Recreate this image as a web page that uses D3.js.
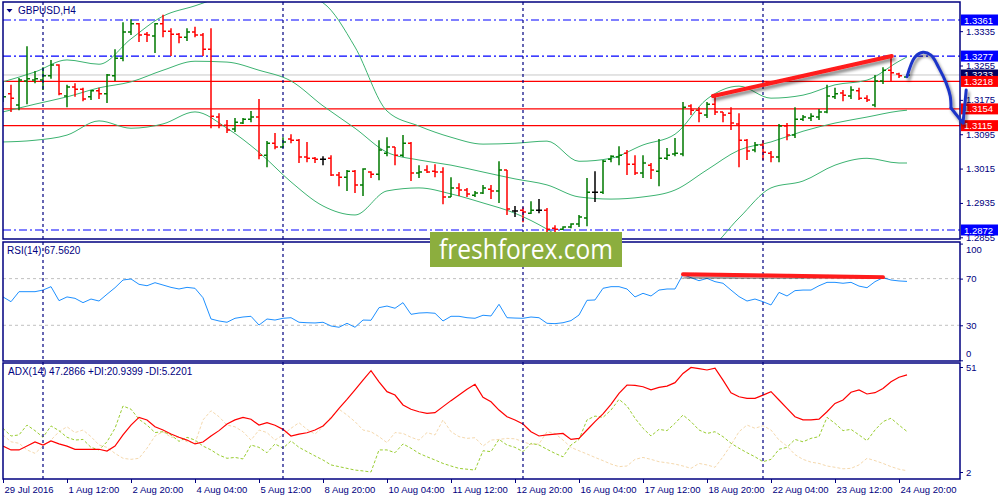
<!DOCTYPE html>
<html>
<head>
<meta charset="utf-8">
<script src="https://cdn.jsdelivr.net/npm/d3@7"></script>
<style>
body { margin: 0; background: #fff; }
svg { display: block; font-family: "Liberation Sans", Arial, sans-serif; }
</style>
</head>
<body>
<script>
//DATA - GBPUSD H4, one entry per bar (bar 0 = 29 Jul 2016)
var open = [1.3175,1.3189,1.3163,1.3219,1.3221,1.3221,1.3231,1.3256,1.3184,1.3205,
  1.3200,1.3182,1.3196,1.3189,1.3231,1.3272,1.3333,1.3352,1.3328,1.3324,
  1.3352,1.3335,1.3328,1.3321,1.3333,1.3326,1.3293,1.3135,1.3116,1.3107,
  1.3121,1.3130,1.3135,1.3046,1.3074,1.3065,1.3084,1.3081,1.3042,1.3039,
  1.3037,1.3039,1.3000,1.2995,1.3009,1.2977,1.3007,1.3002,1.3051,1.3065,
  1.3046,1.3074,1.3005,1.3012,1.3009,1.3007,1.2949,1.2970,1.2965,1.2953,
  1.2958,1.2967,1.2963,1.3012,1.2916,1.2918,1.2911,1.2918,1.2918,1.2876,
  1.2874,1.2879,1.2886,1.2900,1.2960,1.2960,1.3037,1.3042,1.3051,1.3025,
  1.3005,1.3023,1.3009,1.3039,1.3049,1.3049,1.3161,1.3151,1.3140,1.3165,
  1.3147,1.3144,1.3119,1.3081,1.3058,1.3070,1.3051,1.3042,1.3114,1.3093,
  1.3130,1.3133,1.3135,1.3147,1.3182,1.3191,1.3184,1.3196,1.3179,1.3163,
  1.3219,1.3244,1.3235,1.3228];
var high = [1.3217,1.3210,1.3226,1.3300,1.3242,1.3251,1.3268,1.3258,1.3210,1.3214,
  1.3203,1.3198,1.3203,1.3235,1.3293,1.3356,1.3363,1.3354,1.3333,1.3354,
  1.3373,1.3342,1.3331,1.3342,1.3345,1.3331,1.3342,1.3144,1.3128,1.3133,
  1.3133,1.3149,1.3177,1.3079,1.3098,1.3088,1.3095,1.3084,1.3077,1.3042,
  1.3044,1.3046,1.3007,1.3012,1.3012,1.3016,1.3009,1.3081,1.3088,1.3065,
  1.3093,1.3077,1.3023,1.3023,1.3025,1.3018,1.2995,1.2981,1.2970,1.2963,
  1.2977,1.2977,1.3032,1.3012,1.2928,1.2925,1.2939,1.2944,1.2923,1.2883,
  1.2881,1.2888,1.2907,1.2993,1.3009,1.3035,1.3046,1.3067,1.3058,1.3046,
  1.3046,1.3028,1.3084,1.3063,1.3086,1.3170,1.3165,1.3158,1.3170,1.3184,
  1.3147,1.3158,1.3144,1.3084,1.3077,1.3081,1.3056,1.3119,1.3121,1.3158,
  1.3140,1.3144,1.3154,1.3210,1.3203,1.3198,1.3207,1.3203,1.3186,1.3233,
  1.3251,1.3275,1.3238,1.3235];
var low = [1.3170,1.3147,1.3151,1.3165,1.3214,1.3198,1.3224,1.3186,1.3158,1.3182,
  1.3172,1.3175,1.3177,1.3168,1.3219,1.3265,1.3326,1.3310,1.3310,1.3284,
  1.3321,1.3277,1.3307,1.3312,1.3321,1.3277,1.3109,1.3109,1.3098,1.3100,
  1.3119,1.3123,1.3037,1.3018,1.3060,1.3063,1.3074,1.3028,1.3030,1.3028,
  1.3023,1.2998,1.2974,1.2963,1.2958,1.2951,1.2993,1.2988,1.3044,1.3023,
  1.3042,1.2986,1.2993,1.3005,1.2995,1.2932,1.2949,1.2951,1.2949,1.2949,
  1.2956,1.2944,1.2935,1.2907,1.2902,1.2890,1.2909,1.2911,1.2867,1.2867,
  1.2872,1.2876,1.2879,1.2881,1.2937,1.2956,1.3030,1.3023,1.3000,1.3000,
  1.2993,1.2991,1.2974,1.3035,1.3044,1.3044,1.3140,1.3123,1.3133,1.3140,
  1.3123,1.3105,1.3018,1.3035,1.3053,1.3035,1.3030,1.3030,1.3081,1.3086,
  1.3126,1.3126,1.3128,1.3144,1.3177,1.3172,1.3177,1.3175,1.3170,1.3158,
  1.3212,1.3217,1.3226,1.3226];
var close = [1.3182,1.3179,1.3221,1.3224,1.3224,1.3231,1.3256,1.3189,1.3205,1.3200,
  1.3177,1.3196,1.3189,1.3233,1.3272,1.3333,1.3352,1.3326,1.3326,1.3352,
  1.3335,1.3328,1.3321,1.3333,1.3326,1.3293,1.3137,1.3116,1.3105,1.3123,
  1.3130,1.3135,1.3046,1.3074,1.3065,1.3077,1.3081,1.3042,1.3039,1.3037,
  1.3037,1.3000,1.2995,1.3009,1.2977,1.3014,1.3002,1.3058,1.3065,1.3046,
  1.3074,1.3005,1.3007,1.3007,1.3007,1.2949,1.2970,1.2965,1.2956,1.2958,
  1.2970,1.2963,1.3012,1.2921,1.2916,1.2914,1.2918,1.2918,1.2874,1.2874,
  1.2879,1.2886,1.2902,1.2960,1.2960,1.3032,1.3044,1.3046,1.3025,1.3005,
  1.3028,1.3012,1.3039,1.3046,1.3051,1.3158,1.3151,1.3144,1.3165,1.3147,
  1.3140,1.3121,1.3081,1.3056,1.3070,1.3053,1.3042,1.3114,1.3093,1.3130,
  1.3135,1.3137,1.3147,1.3184,1.3189,1.3186,1.3198,1.3179,1.3175,1.3219,
  1.3244,1.3238,1.3231,1.3233];

// Bollinger bands, read every 4th bar
var bandIdx = [0,4,8,12,16,20,24,28,32,36,40,44,48,52,56,60,64,68,72,76,80,84,88,92,96,100,104,108,112,113];
var bandUpper = [1.3217,1.3240,1.3268,1.3258,1.3317,1.3370,1.3394,1.3419,1.3436,1.3426,1.3401,1.3298,1.3149,1.3114,1.3088,
  1.3072,1.3074,1.3079,1.3032,1.3039,1.3070,1.3095,1.3177,1.3207,1.3179,1.3186,1.3210,1.3221,1.3265,1.3275];
var bandMiddle = [1.3147,1.3165,1.3182,1.3203,1.3217,1.3244,1.3265,1.3263,1.3244,1.3219,1.3161,1.3109,1.3053,1.3035,1.3023,
  1.3007,1.2991,1.2977,1.2949,1.2944,1.2949,1.2965,1.3012,1.3058,1.3077,1.3102,1.3121,1.3135,1.3149,1.3151];
var bandLower = [1.3077,1.3081,1.3093,1.3126,1.3109,1.3119,1.3147,1.3109,1.3053,1.2984,1.2928,1.2907,1.2963,1.2970,1.2956,
  1.2935,1.2911,1.2874,1.2825,1.2807,1.2797,1.2807,1.2825,1.2900,1.2970,1.2986,1.3023,1.3039,1.3028,1.3028];

var rsi = [54.3,50.2,58.8,58.8,58.8,60.2,63.1,51.1,54.3,53.1,49.4,52.5,50.8,56.6,62.2,68.8,69.7,65.1,63.9,66.5,
  64.5,62.5,61.1,62.5,61.7,53.6,35.4,33.7,32.6,36.0,37.1,37.7,30.2,35.4,34.5,36.0,36.5,32.6,32.2,32.0,
  32.6,29.4,28.3,31.7,28.3,34.5,34.3,45.1,46.5,44.6,49.4,39.4,40.5,40.8,40.3,33.7,37.7,37.7,36.5,36.0,
  38.6,38.0,48.0,36.5,36.2,36.0,37.1,36.5,31.7,31.4,32.2,34.0,38.8,51.4,51.7,61.7,63.1,63.1,61.1,54.3,
  57.4,55.1,60.2,61.1,61.1,73.6,70.8,68.2,70.2,67.4,66.0,60.2,54.6,50.8,52.5,50.2,47.4,58.2,55.1,59.7,
  60.2,60.2,63.9,66.8,66.8,66.0,66.8,63.6,62.2,67.4,70.8,68.8,68.0,67.6];
var adx = [14.1,12.3,12.3,14.1,16.0,14.6,16.5,15.1,14.1,12.6,12.6,12.6,12.6,11.8,14.1,19.3,23.9,27.5,26.3,23.1,
  21.6,19.7,18.2,16.9,15.1,16.0,18.8,21.3,24.4,26.3,27.5,26.6,23.9,25.0,23.8,21.9,18.8,19.7,20.3,21.6,
  23.5,27.1,31.7,35.9,40.3,44.9,49.3,44.1,39.5,37.9,33.3,31.3,30.1,29.4,29.7,32.5,35.3,37.9,40.6,42.9,
  36.9,34.8,30.9,27.8,26.3,24.4,20.8,18.8,19.3,19.7,20.0,17.2,17.7,21.6,25.5,29.1,33.6,38.7,42.6,42.4,
  41.8,40.3,41.5,42.1,43.7,48.0,50.8,50.2,49.6,50.5,44.9,39.0,37.1,36.4,36.4,37.9,39.5,35.6,31.7,27.8,
  26.3,26.3,26.7,30.1,34.0,35.6,39.2,40.3,38.4,39.0,41.0,44.1,46.2,47.3];
var plusDI = [22.4,18.8,19.3,23.9,21.3,18.2,23.5,21.3,18.2,16.9,17.2,13.5,12.3,16.1,22.4,32.8,31.3,26.6,23.9,20.4,
  20.8,19.3,16.3,18.2,16.9,14.1,12.3,9.9,8.4,8.8,8.1,14.6,13.5,11.0,15.1,13.1,16.5,13.5,11.5,9.5,
  7.6,5.3,4.5,3.7,2.9,2.5,2.0,12.3,12.3,11.0,15.1,13.1,10.7,9.1,7.6,6.0,4.8,3.7,3.3,2.9,
  11.9,11.5,17.2,14.6,13.5,11.5,15.4,14.6,12.6,10.7,9.1,14.6,17.2,26.3,28.1,27.5,30.9,35.9,32.8,27.1,
  22.4,18.8,21.9,21.3,24.7,28.6,25.5,21.6,20.0,20.8,18.5,15.4,13.1,11.0,9.1,6.8,7.9,12.6,13.5,17.2,
  16.1,17.7,18.5,27.5,24.7,21.3,21.9,19.3,16.6,21.6,25.5,27.1,23.9,20.9];
var minusDI = [19.3,16.1,15.4,12.3,10.7,14.1,16.9,20.8,23.1,20.4,21.6,18.5,14.6,13.5,10.7,8.4,7.9,8.4,13.1,18.8,
  20.8,18.2,18.2,16.1,15.4,26.3,30.6,27.8,23.9,23.1,20.8,16.9,21.6,20.4,16.9,19.3,22.4,25.0,21.9,19.7,
  23.1,27.8,31.3,28.6,25.5,21.6,20.8,18.5,15.7,20.4,20.0,18.2,16.9,20.4,19.3,26.3,20.8,18.5,17.7,18.0,
  14.1,16.9,17.2,17.7,17.5,16.1,14.9,15.1,20.8,20.0,16.9,13.5,11.9,10.4,8.8,7.3,5.7,4.5,4.8,7.9,
  8.8,7.9,6.8,6.3,5.7,4.8,3.7,6.0,5.3,4.2,9.1,14.6,20.8,23.9,22.4,23.6,21.6,16.9,14.1,10.1,
  7.9,6.6,6.0,4.8,4.2,3.5,3.7,5.3,8.4,7.3,6.0,4.5,3.3,2.6];

var timeIdx = [0,8,16,24,32,40,48,56,64,72,80,88,96,104,112];
var timeLabels = ["29 Jul 2016","1 Aug 12:00","2 Aug 20:00","4 Aug 04:00","5 Aug 12:00","8 Aug 20:00",
  "10 Aug 04:00","11 Aug 12:00","12 Aug 20:00","16 Aug 04:00","17 Aug 12:00","18 Aug 20:00",
  "22 Aug 04:00","23 Aug 12:00","24 Aug 20:00"];
var weekStarts = [5,35,65,95];

var priceTicks = [1.3335,1.3255,1.3175,1.3095,1.3015,1.2935,1.2855];
var blueLevels = [1.3361,1.3277,1.2872];
var redLevels = [1.3218,1.3154,1.3115];
var bidPrice = 1.3233;
var rsiLevels = [70,30];

// drawing objects: [bar index, value]
var trendMain = [[88.75,1.3184],[111.1,1.3277]];
var trendRsi = [[85,73.7],[110,71.1]];
var arrowCurve = [[113,1.3229],[114,1.3275],[115,1.3286],[116,1.3279],[117,1.3249],[117.9,1.3214],[118.4,1.3184],[118.5,1.3156]];
var arrowHead = [[118.5,1.3156],[120,1.3121],[120.4,1.3198]];

//GENERAL VARIABLES
var width = 1000,
    height = 500,
    left = 3,
    right = 960;
var navy = "#000080";

var x = d3.scaleLinear().domain([0, 113]).range([3, 907]);
var y = d3.scaleLinear().domain([1.2872, 1.3361]).range([230, 20]);
var yRsi = d3.scaleLinear().domain([0, 100]).range([360.3, 243.6]);
var yAdx = d3.scaleLinear().domain([2, 51]).range([472, 367]);

var svg = d3.select("body").append("svg")
    .attr("width", width)
    .attr("height", height);

var defs = svg.append("defs");
[["clipMain", 2, 237], ["clipRsi", 242, 119], ["clipAdx", 363, 116]].forEach(function(c) {
    defs.append("clipPath").attr("id", c[0])
        .append("rect").attr("x", left).attr("y", c[1]).attr("width", right - left).attr("height", c[2]);
});
defs.append("filter").attr("id", "shadow").attr("x", "-20%").attr("y", "-50%").attr("width", "140%").attr("height", "200%")
    .append("feDropShadow").attr("dx", 2).attr("dy", 3).attr("stdDeviation", 1.6)
    .attr("flood-color", "#000").attr("flood-opacity", 0.45);

//MAIN PANEL
var gMain = svg.append("g").attr("clip-path", "url(#clipMain)");

gMain.append("line")
    .attr("x1", left).attr("x2", right)
    .attr("y1", y(bidPrice)).attr("y2", y(bidPrice))
    .attr("stroke", "#c8c8c8").attr("stroke-width", 1);

gMain.selectAll(".blueLevel")
    .data(blueLevels)
    .enter().append("line")
    .attr("class", "blueLevel")
    .attr("x1", left).attr("x2", right)
    .attr("y1", function(d) { return y(d); }).attr("y2", function(d) { return y(d); })
    .attr("stroke", "#0000ff").attr("stroke-width", 1.2)
    .attr("stroke-dasharray", "8,3,2,3");

gMain.selectAll(".redLevel")
    .data(redLevels)
    .enter().append("line")
    .attr("class", "redLevel")
    .attr("x1", left).attr("x2", right)
    .attr("y1", function(d) { return y(d); }).attr("y2", function(d) { return y(d); })
    .attr("stroke", "#ff0000").attr("stroke-width", 1.2);

var bandLine = d3.line()
    .x(function(d) { return x(d[0]); })
    .y(function(d) { return y(d[1]); })
    .curve(d3.curveMonotoneX);

[bandUpper, bandMiddle, bandLower].forEach(function(band) {
    gMain.append("path")
        .datum(bandIdx.map(function(i, k) { return [i, band[k]]; }))
        .attr("d", bandLine)
        .attr("fill", "none")
        .attr("stroke", "#3cb371")
        .attr("stroke-width", 1);
});

var bars = d3.range(open.length).map(function(i) {
    return {i: i, o: open[i], h: high[i], l: low[i], c: close[i]};
});

gMain.selectAll(".bar")
    .data(bars)
    .enter().append("path")
    .attr("class", "bar")
    .attr("d", function(d) {
        var bx = x(d.i);
        return "M" + bx + "," + y(d.h) + "V" + y(d.l) +
            "M" + (bx - 3) + "," + y(d.o) + "H" + bx +
            "M" + bx + "," + y(d.c) + "H" + (bx + 3);
    })
    .attr("fill", "none")
    .attr("stroke-width", 1.5)
    .attr("stroke", function(d) {
        if (d.c > d.o) { return "#007a00"; }
        else if (d.c < d.o) { return "#ff0000"; }
        return "#000000";
    });

//RSI PANEL
var gRsi = svg.append("g").attr("clip-path", "url(#clipRsi)");

gRsi.selectAll(".rsiLevel")
    .data(rsiLevels)
    .enter().append("line")
    .attr("x1", left).attr("x2", right)
    .attr("y1", function(d) { return yRsi(d); }).attr("y2", function(d) { return yRsi(d); })
    .attr("stroke", "#c0c0c0").attr("stroke-dasharray", "3,3");

gRsi.append("path")
    .datum(rsi)
    .attr("d", d3.line().x(function(d, i) { return x(i); }).y(function(d) { return yRsi(d); }))
    .attr("fill", "none")
    .attr("stroke", "#1e90ff")
    .attr("stroke-width", 1);

//ADX PANEL
var gAdx = svg.append("g").attr("clip-path", "url(#clipAdx)");
var adxLine = d3.line().x(function(d, i) { return x(i); }).y(function(d) { return yAdx(d); });

gAdx.append("path").datum(minusDI).attr("d", adxLine)
    .attr("fill", "none").attr("stroke", "#f5d9ae").attr("stroke-width", 1).attr("stroke-dasharray", "3,2");
gAdx.append("path").datum(plusDI).attr("d", adxLine)
    .attr("fill", "none").attr("stroke", "#9acd32").attr("stroke-width", 1).attr("stroke-dasharray", "3,2");
gAdx.append("path").datum(adx).attr("d", adxLine)
    .attr("fill", "none").attr("stroke", "#ff0000").attr("stroke-width", 1.2);

// week separators
svg.selectAll(".sep")
    .data(weekStarts)
    .enter().append("line")
    .attr("class", "sep")
    .attr("x1", function(d) { return x(d); }).attr("x2", function(d) { return x(d); })
    .attr("y1", 2).attr("y2", 479)
    .attr("stroke", navy).attr("stroke-width", 1.2)
    .attr("stroke-dasharray", "3,3");

// panel frames
[[2, 237], [242, 119], [363, 116]].forEach(function(p) {
    svg.append("rect")
        .attr("x", left).attr("y", p[0])
        .attr("width", right - left).attr("height", p[1])
        .attr("fill", "none").attr("stroke", navy).attr("stroke-width", 1.5);
});

//AXES
function styleAxis(g) {
    g.select(".domain").remove();
    g.selectAll("line").attr("stroke", navy);
    g.selectAll("text").attr("fill", navy).attr("font-size", "9.5px")
        .attr("font-family", "'Liberation Sans', Arial, sans-serif");
}

svg.append("g")
    .attr("transform", "translate(" + right + ",0)")
    .call(d3.axisRight(y).tickValues(priceTicks).tickSize(3).tickFormat(d3.format(".4f")))
    .call(styleAxis);

svg.append("g")
    .attr("transform", "translate(" + right + ",0)")
    .call(d3.axisRight(yRsi).tickValues([100, 70, 30, 0]).tickSize(3))
    .call(styleAxis)
    .selectAll("text")
    .attr("transform", function(d) { return d === 100 ? "translate(0,6)" : d === 0 ? "translate(0,-7)" : null; });

svg.append("g")
    .attr("transform", "translate(" + right + ",0)")
    .call(d3.axisRight(yAdx).tickValues([51, 2]).tickSize(3))
    .call(styleAxis);

svg.append("g")
    .attr("transform", "translate(0,479)")
    .call(d3.axisBottom(x).tickValues(timeIdx).tickSize(4)
        .tickFormat(function(d, i) { return timeLabels[i]; }))
    .call(styleAxis)
    .selectAll("text")
    .attr("text-anchor", "start")
    .attr("dx", 1);

// price boxes on the right scale
function priceBox(value, fill) {
    var g = svg.append("g").attr("transform", "translate(961," + y(value) + ")");
    g.append("rect").attr("x", 0).attr("y", -5.5).attr("width", 37).attr("height", 11).attr("fill", fill);
    g.append("text").attr("x", 3).attr("y", 3.5).attr("fill", "#fff").attr("font-size", "9.5px")
        .text(d3.format(".4f")(value));
}
priceBox(bidPrice, "#000060");
blueLevels.forEach(function(v) { priceBox(v, "#0000ff"); });
redLevels.forEach(function(v) { priceBox(v, "#ff0000"); });

//LABELS
svg.append("path").attr("d", "M6.5,9 L12.5,9 L9.5,12.5 Z").attr("fill", navy);
svg.append("text").attr("x", 18).attr("y", 14).attr("fill", navy).attr("font-size", "10px").text("GBPUSD,H4");
svg.append("text").attr("x", 7).attr("y", 254).attr("fill", navy).attr("font-size", "10px").text("RSI(14) 67.5620");
svg.append("text").attr("x", 8).attr("y", 375).attr("fill", navy).attr("font-size", "10px")
    .text("ADX(14) 47.2866 +DI:20.9399 -DI:5.2201");

//DRAWINGS
svg.append("path")
    .datum(trendMain)
    .attr("d", bandLine.curve(d3.curveLinear))
    .attr("fill", "none").attr("stroke", "#ff1a1a").attr("stroke-width", 4)
    .attr("stroke-linecap", "round").attr("filter", "url(#shadow)");

svg.append("path")
    .datum(trendRsi)
    .attr("d", d3.line().x(function(d) { return x(d[0]); }).y(function(d) { return yRsi(d[1]); }))
    .attr("fill", "none").attr("stroke", "#ff1a1a").attr("stroke-width", 4)
    .attr("stroke-linecap", "round").attr("filter", "url(#shadow)");

var arrowG = svg.append("g").attr("filter", "url(#shadow)");
arrowG.append("path")
    .datum(arrowCurve)
    .attr("d", d3.line().x(function(d) { return x(d[0]); }).y(function(d) { return y(d[1]); }).curve(d3.curveCatmullRom))
    .attr("fill", "none").attr("stroke", "#1f35c8").attr("stroke-width", 3).attr("stroke-linecap", "round");
arrowG.append("path")
    .datum(arrowHead)
    .attr("d", d3.line().x(function(d) { return x(d[0]); }).y(function(d) { return y(d[1]); }))
    .attr("fill", "none").attr("stroke", "#1f35c8").attr("stroke-width", 3)
    .attr("stroke-linecap", "round").attr("stroke-linejoin", "round");

//WATERMARK
svg.append("rect").attr("x", 430).attr("y", 232).attr("width", 192).attr("height", 35).attr("fill", "#8cae3e");
svg.append("text")
    .attr("x", 526).attr("y", 259)
    .attr("text-anchor", "middle")
    .attr("fill", "#ffffff")
    .attr("font-family", "'Open Sans', sans-serif")
    .attr("font-size", "27px")
    .attr("textLength", 174)
    .attr("lengthAdjust", "spacingAndGlyphs")
    .text("freshforex.com");
</script>
</body>
</html>
